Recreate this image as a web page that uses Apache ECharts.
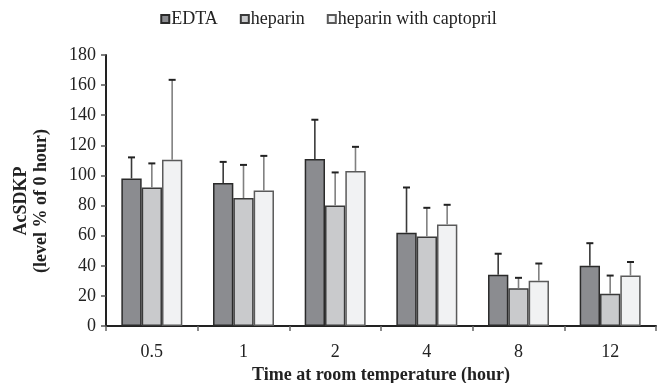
<!DOCTYPE html>
<html>
<head>
<meta charset="utf-8">
<script src="https://cdn.jsdelivr.net/npm/echarts@6/dist/echarts.min.js"></script>
<style>
  html, body { margin: 0; padding: 0; background: #fff; }
  #chart { width: 657px; height: 383px; }
</style>
</head>
<body>
<div id="chart"></div>
<script>
// Time points (hours at room temperature)
const categories = ['0.5', '1', '2', '4', '8', '12'];

// Mean AcSDKP level (% of 0 hour) per anticoagulant
const edtaMean = [98, 95, 111, 62, 34, 40];
const heparinMean = [92, 85, 80, 59.5, 25, 21.5];
const captoprilMean = [110.5, 90, 103, 67.5, 30, 33.5];

// Standard deviations (upper error bars only)
const edtaSd = [14, 14, 26, 30, 14, 15];
const heparinSd = [16, 22, 22, 19, 7, 12];
const captoprilSd = [53, 23, 16, 13, 11.5, 9];

const seriesNames = ['EDTA', 'heparin', 'heparin with captopril'];

const SERIF = '"Liberation Serif", "DejaVu Serif", serif';
const CAT_GAP = 0.335;

const groups = [
  { name: seriesNames[0], mean: edtaMean, sd: edtaSd, fill: '#8b8c90', border: '#2a2a2a', err: '#3a3a3a' },
  { name: seriesNames[1], mean: heparinMean, sd: heparinSd, fill: '#c9cacc', border: '#3a3a3a', err: '#808080' },
  { name: seriesNames[2], mean: captoprilMean, sd: captoprilSd, fill: '#f1f2f3', border: '#5a5a5a', err: '#808080' }
];

const barSeries = groups.map(g => ({
  name: g.name,
  type: 'bar',
  data: g.mean,
  barGap: '0%',
  barCategoryGap: (CAT_GAP * 100) + '%',
  itemStyle: { color: g.fill, borderColor: g.border, borderWidth: 1.5 },
  emphasis: { disabled: true },
  z: 2
}));

// Upward error bars placed over each bar of a group
const errorSeries = groups.map((g, k) => ({
  name: g.name + ' SD',
  type: 'custom',
  z: 3,
  silent: true,
  data: g.mean.map((m, i) => [i, m, g.sd[i]]),
  renderItem: function (params, api) {
    const ci = api.value(0);
    const mean = api.value(1);
    const sd = api.value(2);
    const band = api.size([1, 0])[0];
    const bw = band * (1 - CAT_GAP) / 3;
    const base = api.coord([ci, mean]);
    const x = base[0] + (k - 1) * bw;
    const top = api.coord([ci, mean + sd])[1];
    return {
      type: 'group',
      children: [
        { type: 'line', shape: { x1: x, y1: base[1], x2: x, y2: top },
          style: { stroke: g.err, lineWidth: 1.6 } },
        { type: 'line', shape: { x1: x - 3.5, y1: top, x2: x + 3.5, y2: top },
          style: { stroke: '#222', lineWidth: 2 } }
      ]
    };
  }
}));

const chart = echarts.init(document.getElementById('chart'), null, { renderer: 'canvas' });

chart.setOption({
  animation: false,
  backgroundColor: '#ffffff',
  textStyle: { fontFamily: SERIF },
  legend: {
    data: seriesNames,
    top: 5,
    left: 'center',
    icon: 'rect',
    itemWidth: 8,
    itemHeight: 8,
    itemGap: 22,
    selectedMode: false,
    textStyle: { fontFamily: SERIF, fontSize: 18, color: '#222', padding: [0, 0, 0, -3] }
  },
  grid: { left: 106, right: 1, top: 55, bottom: 57, containLabel: false, outerBoundsMode: 'none' },
  xAxis: {
    type: 'category',
    data: categories,
    name: 'Time at room temperature (hour)',
    nameLocation: 'middle',
    nameGap: 39,
    nameTextStyle: { fontFamily: SERIF, fontSize: 18, fontWeight: 'bold', color: '#222' },
    axisLine: { lineStyle: { color: '#222', width: 2 } },
    axisTick: { show: true, alignWithLabel: false, length: 5, lineStyle: { color: '#666', width: 1.5 } },
    axisLabel: { fontFamily: SERIF, fontSize: 18, color: '#222', margin: 17 },
    splitLine: { show: false }
  },
  yAxis: {
    type: 'value',
    min: 0,
    max: 180,
    interval: 20,
    axisLine: { show: true, lineStyle: { color: '#222', width: 2 } },
    axisTick: { show: true, length: 5, lineStyle: { color: '#555', width: 1.5 } },
    axisLabel: { fontFamily: SERIF, fontSize: 18, color: '#222', margin: 10 },
    splitLine: { show: false }
  },
  graphic: [
    {
      type: 'text',
      x: 21, y: 201,
      rotation: Math.PI / 2,
      style: { text: 'AcSDKP', font: 'bold 18px ' + SERIF, fill: '#222',
               textAlign: 'center', textVerticalAlign: 'middle' }
    },
    {
      type: 'text',
      x: 41, y: 201,
      rotation: Math.PI / 2,
      style: { text: '(level % of 0 hour)', font: 'bold 18px ' + SERIF, fill: '#222',
               textAlign: 'center', textVerticalAlign: 'middle' }
    }
  ],
  series: barSeries.concat(errorSeries)
});
</script>
</body>
</html>
